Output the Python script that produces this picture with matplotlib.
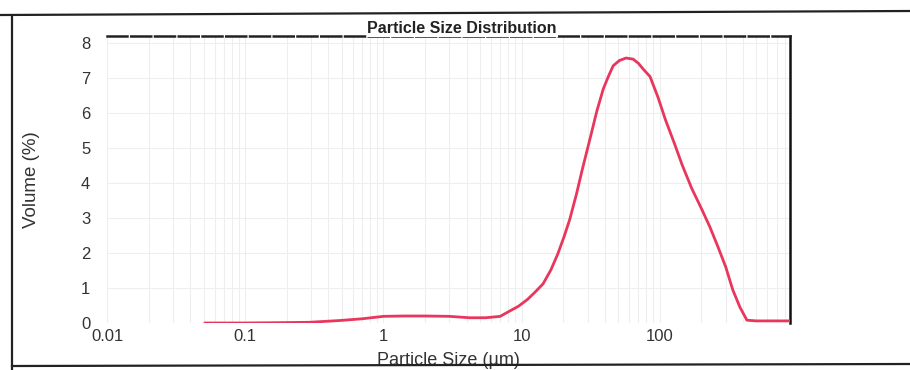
import matplotlib
matplotlib.use("Agg")
import matplotlib.pyplot as plt
from matplotlib.lines import Line2D
from matplotlib.ticker import LogLocator, FixedLocator, FixedFormatter

plt.rcParams['font.family'] = ['Liberation Sans', 'DejaVu Sans']

# Particle size (um) and volume (%) along the distribution curve
size_um = [0.051, 0.1, 0.18, 0.29, 0.48, 0.7, 1.0, 1.4, 2.0, 3.0, 4.2, 5.5,
           7.0, 8.1, 9.5, 11, 12.5, 14.3, 16.3, 18.3, 20.3, 22.3, 25, 27.5,
           31.6, 35, 39, 42.5, 46, 51, 57, 64, 70, 76, 85, 97, 110, 127, 145,
           170, 200, 230, 262, 300, 337, 380, 427, 500, 650, 875]
volume_pct = [0.0, 0.0, 0.01, 0.02, 0.07, 0.12, 0.19, 0.2, 0.2, 0.19, 0.15,
              0.15, 0.19, 0.33, 0.48, 0.67, 0.88, 1.12, 1.52, 1.98, 2.47,
              2.96, 3.7, 4.39, 5.34, 6.05, 6.69, 7.05, 7.35, 7.5, 7.57, 7.54,
              7.42, 7.25, 7.04, 6.45, 5.8, 5.15, 4.52, 3.85, 3.27, 2.75, 2.2,
              1.6, 0.95, 0.45, 0.08, 0.06, 0.06, 0.06]

x_ticks = [0.01, 0.1, 1, 10, 100]
x_tick_labels = ["0.01", "0.1", "1", "10", "100"]
y_ticks = [0, 1, 2, 3, 4, 5, 6, 7, 8]

fig = plt.figure(figsize=(9.1, 3.7), dpi=100)
ax = fig.add_axes([107 / 910, 1 - 323 / 370, 683 / 910, 287 / 370])

ax.plot(size_um, volume_pct, color='#e8365d', lw=2.0, solid_capstyle='round', zorder=3)

ax.set_xscale('log')
ax.set_xlim(0.01, 875)
ax.set_ylim(0, 8.2)

# faint grid on minor decades and whole percents
ax.xaxis.set_major_locator(FixedLocator(x_ticks))
ax.xaxis.set_major_formatter(FixedFormatter(x_tick_labels))
ax.xaxis.set_minor_locator(LogLocator(base=10, subs=range(2, 10), numticks=20))
ax.set_yticks(y_ticks)
ax.grid(True, which='both', axis='x', color='#eeeeee', lw=0.8)
ax.grid(True, which='major', axis='y', color='#eeeeee', lw=0.8)

ax.tick_params(axis='both', which='both', length=0, labelsize=12, colors='#333333')
ax.tick_params(axis='y', pad=12)
ax.tick_params(axis='x', pad=4)

for side in ('left', 'bottom'):
    ax.spines[side].set_visible(False)
ax.spines['right'].set_color('#111111')
ax.spines['right'].set_linewidth(1.8)
ax.spines['top'].set_color('#222222')
ax.spines['top'].set_linewidth(1.8)
ax.spines['top'].set_linestyle((0, (8, 1.5)))

ax.text(0.52, 1.0, "Particle Size Distribution", transform=ax.transAxes,
        ha='center', va='bottom', fontsize=11.5, fontweight='bold', color='#222222',
        bbox=dict(facecolor='white', edgecolor='none', pad=0.5))

ax.set_xlabel("Particle Size (µm)", fontsize=13, color='#333333', labelpad=6)
fig.text(32 / 910, 1 - 180 / 370, "Volume (%)", rotation=90, ha='center',
         va='center', fontsize=13.5, color='#333333')

# outer document frame
frame = dict(transform=fig.transFigure, color='#222222', lw=1.6)
fig.add_artist(Line2D([0.0, 1.0], [1 - 15 / 370, 1 - 11 / 370], **frame))
fig.add_artist(Line2D([12 / 910, 12 / 910], [1 - 16 / 370, 0.0], **frame))
fig.add_artist(Line2D([12 / 910, 1.0], [1 - 366 / 370, 1 - 364 / 370], **frame))

fig.savefig("out.png", dpi=100)
